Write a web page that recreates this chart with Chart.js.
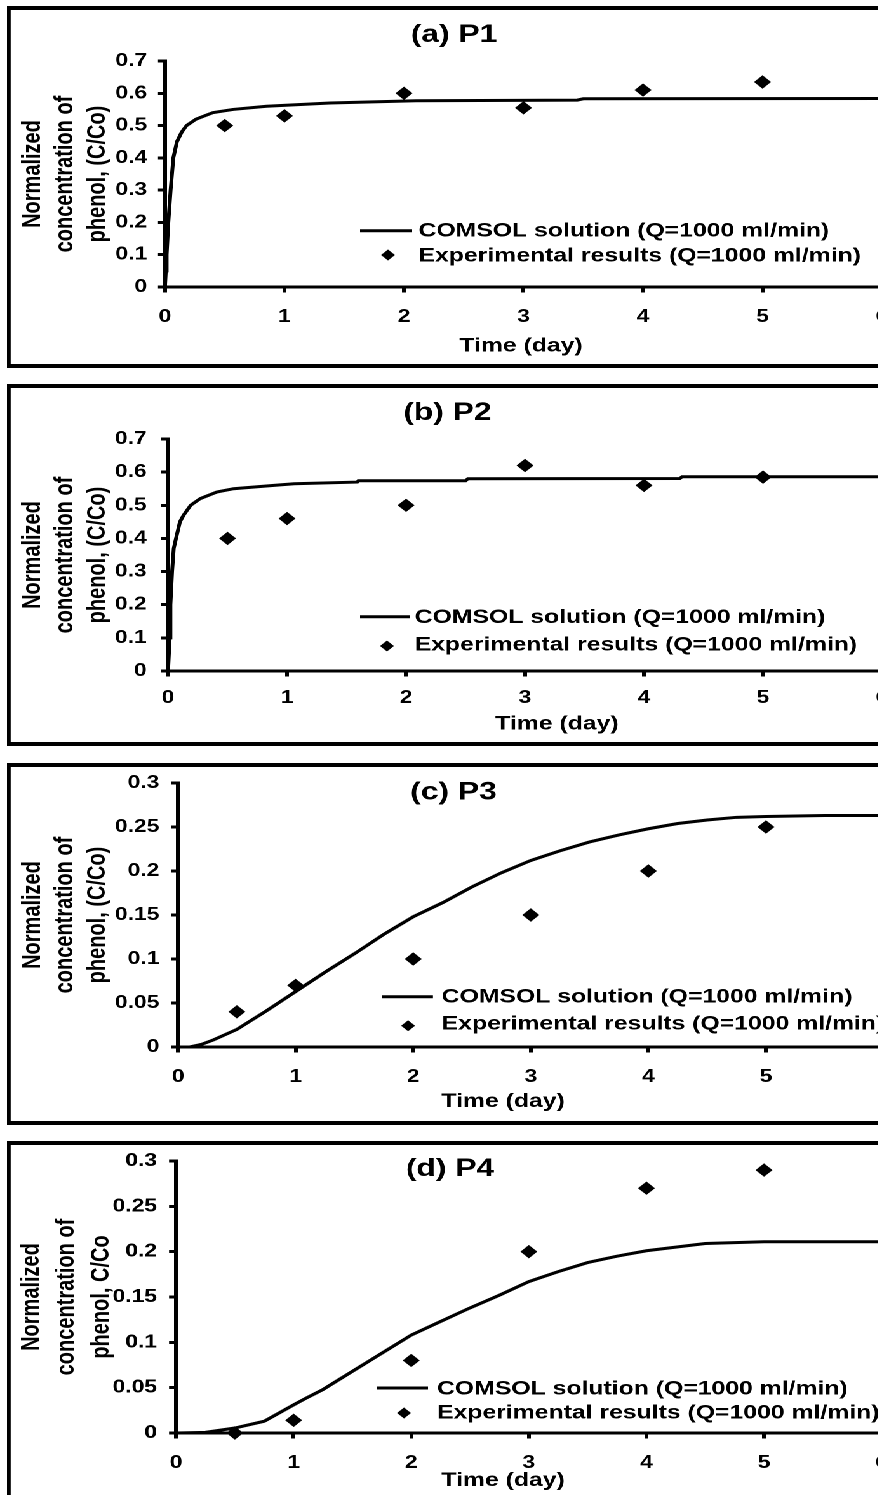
<!DOCTYPE html>
<html>
<head>
<meta charset="utf-8">
<script src="https://cdn.jsdelivr.net/npm/chart.js@4.4.1/dist/chart.umd.min.js"></script>
<style>
html, body { margin: 0; padding: 0; background: #fff; overflow: hidden; width: 878px; height: 1495px; }
.panel { position: absolute; left: 7px; width: 706px; height: 362px; box-sizing: border-box;
  border-style: solid; border-color: #000; border-width: 4px 3px; background: #fff;
  transform: scaleX(1.27); transform-origin: 0 0; }
.panel canvas { display: block; }
</style>
</head>
<body>
<div class="panel" style="top:6px"><canvas id="cA" width="700" height="354"></canvas></div>
<div class="panel" style="top:384px"><canvas id="cB" width="700" height="354"></canvas></div>
<div class="panel" style="top:763px"><canvas id="cC" width="700" height="354"></canvas></div>
<div class="panel" style="top:1141px"><canvas id="cD" width="700" height="354"></canvas></div>
<script>
// ---------------- data ----------------
const panelTitles = ['(a) P1', '(b) P2', '(c) P3', '(d) P4'];
const xAxisTitle = 'Time (day)';
const yAxisTitleABC = ['Normalized', 'concentration of', 'phenol, (C/Co)'];
const yAxisTitleD = ['Normalized', 'concentration of', 'phenol, C/Co'];
const legendLabels = ['COMSOL solution (Q=1000 ml/min)', 'Experimental results (Q=1000 ml/min)'];

const xTickLabels = ['0', '1', '2', '3', '4', '5', '6'];
const yTickLabelsAB = ['0', '0.1', '0.2', '0.3', '0.4', '0.5', '0.6', '0.7'];
const yTickLabelsCD = ['0', '0.05', '0.1', '0.15', '0.2', '0.25', '0.3'];

const expDays = [0.5, 1, 2, 3, 4, 5];
const expP1 = [0.5, 0.53, 0.6, 0.555, 0.61, 0.635];
const expP2 = [0.4, 0.46, 0.5, 0.62, 0.56, 0.585];
const expP3 = [0.04, 0.07, 0.1, 0.15, 0.2, 0.25];
const expP4 = [0, 0.014, 0.08, 0.2, 0.27, 0.29];

const comsolP1Days = [0, 0.007, 0.014, 0.028, 0.047, 0.07, 0.1, 0.14, 0.18, 0.26, 0.4, 0.57, 0.85, 1.38, 2.1, 3.45, 3.5, 6];
const comsolP1 = [0, 0.05, 0.1, 0.2, 0.3, 0.4, 0.45, 0.48, 0.5, 0.52, 0.54, 0.55, 0.56, 0.57, 0.577, 0.579, 0.583, 0.584];

const comsolP2Days = [0, 0.007, 0.014, 0.02, 0.034, 0.048, 0.067, 0.1, 0.13, 0.19, 0.27, 0.41, 0.55, 0.89, 1.06, 1.59, 1.6, 2.5, 2.52, 4.3, 4.32, 6];
const comsolP2 = [0, 0.05, 0.1, 0.2, 0.3, 0.37, 0.4, 0.45, 0.47, 0.5, 0.52, 0.54, 0.55, 0.56, 0.565, 0.57, 0.574, 0.574, 0.58, 0.581, 0.586, 0.586];

const comsolP3Days = [0, 0.1, 0.2, 0.3, 0.5, 0.75, 1, 1.25, 1.5, 1.75, 2, 2.25, 2.5, 2.75, 3, 3.25, 3.5, 3.75, 4, 4.25, 4.5, 4.75, 5, 5.5, 6];
const comsolP3 = [0, 0, 0.003, 0.008, 0.02, 0.041, 0.063, 0.085, 0.106, 0.128, 0.148, 0.164, 0.182, 0.198, 0.212, 0.223, 0.233, 0.241, 0.248, 0.254, 0.258, 0.261, 0.262, 0.263, 0.263];

const comsolP4Days = [0, 0.25, 0.5, 0.75, 1, 1.1, 1.25, 1.5, 1.75, 2, 2.25, 2.5, 2.75, 3, 3.25, 3.5, 3.75, 4, 4.5, 5, 5.5, 6];
const comsolP4 = [0, 0.0007, 0.0055, 0.013, 0.031, 0.038, 0.048, 0.068, 0.088, 0.108, 0.123, 0.138, 0.152, 0.167, 0.178, 0.188, 0.195, 0.201, 0.209, 0.211, 0.211, 0.211];

// ---------------- styling / layout ----------------
const FONT = '"Liberation Sans", Arial, Helvetica, sans-serif';
const TICK_MARK = 4;
const AXIS_W = 3;

const panelDecor = {
  id: 'panelDecor',
  afterDraw(chart, args, o) {
    const ctx = chart.ctx;
    const ds = chart.data.datasets;
    ctx.save();
    ctx.fillStyle = '#000';
    ctx.strokeStyle = '#000';
    ctx.textBaseline = 'middle';
    ctx.textAlign = 'center';
    ctx.font = 'bold ' + o.titleSize + 'px ' + FONT;
    ctx.fillText(o.title, o.titleX, o.titleY);
    ctx.font = 'bold ' + o.xTitleSize + 'px ' + FONT;
    ctx.fillText(o.xTitle, o.xTitleX, o.xTitleY);
    // legend
    const L = o.legend;
    ctx.textAlign = 'left';
    ctx.font = 'bold ' + o.legendSize + 'px ' + FONT;
    ctx.lineWidth = 3;
    ctx.beginPath();
    ctx.moveTo(L.lineX1, L.lineY);
    ctx.lineTo(L.lineX2, L.lineY);
    ctx.stroke();
    ctx.fillText(ds[0].label, L.textX, L.row1Y);
    const r = L.r;
    ctx.beginPath();
    ctx.moveTo(L.dX, L.dY - r);
    ctx.lineTo(L.dX + r, L.dY);
    ctx.lineTo(L.dX, L.dY + r);
    ctx.lineTo(L.dX - r, L.dY);
    ctx.closePath();
    ctx.fill();
    ctx.fillText(ds[1].label, L.textX, L.row2Y);
    ctx.restore();
  }
};

function pts(xs, ys) { return xs.map((x, i) => ({ x: x, y: ys[i] })); }

function makeChart(p) {
  const CW = 700, CH = 354;
  const yVals = p.yLabels.map(Number);
  const xVals = xTickLabels.map(Number);
  // The label gap comes from a longer tick length; only a short dash next to the axis is visible.
  // x ticks are stroked from the axis outward, y ticks from the outer end toward the axis.
  const gridX = { display: true, drawOnChartArea: false, drawTicks: true, tickLength: TICK_MARK + p.xPad,
    tickBorderDash: [TICK_MARK, 300], tickBorderDashOffset: 0, lineWidth: 3, color: '#000' };
  const gridY = { display: true, drawOnChartArea: false, drawTicks: true, tickLength: TICK_MARK + p.yPad,
    tickBorderDash: [TICK_MARK, 300], tickBorderDashOffset: -(p.yPad - AXIS_W / 2), lineWidth: 3, color: '#000' };
  const opts = {
    responsive: false,
    maintainAspectRatio: false,
    animation: false,
    devicePixelRatio: 2,
    layout: { padding: { left: 0, top: p.chartTop, right: CW - p.chartRight, bottom: 0 } },
    plugins: {
      legend: { display: false },
      tooltip: { enabled: false },
      title: { display: false },
      panelDecor: {
        title: p.title, titleX: p.titleX, titleY: p.titleY, titleSize: 25,
        xTitle: xAxisTitle, xTitleX: p.xTitleX, xTitleY: p.xTitleY, xTitleSize: 19.5,
        legendSize: 19.5, legend: p.legend
      }
    },
    scales: {
      x: {
        type: 'linear', min: 0, max: 6,
        afterBuildTicks: s => { s.ticks = xVals.map(v => ({ value: v })); },
        afterFit: s => { s.height = CH - p.chartBottom; },
        ticks: {
          color: '#000', padding: 0, maxRotation: 0, autoSkip: false,
          font: { family: FONT, size: 18, weight: 'bold' },
          callback: (v, i) => xTickLabels[i]
        },
        grid: gridX,
        border: { display: true, color: '#000', width: AXIS_W },
        title: { display: false }
      },
      y: {
        type: 'linear', min: yVals[0], max: yVals[yVals.length - 1],
        afterBuildTicks: s => { s.ticks = yVals.map(v => ({ value: v })); },
        afterFit: s => { s.width = p.yW; },
        ticks: {
          color: '#000', padding: 0, autoSkip: false,
          font: { family: FONT, size: 18, weight: 'bold' },
          callback: (v, i) => p.yLabels[i]
        },
        grid: gridY,
        border: { display: true, color: '#000', width: AXIS_W },
        title: {
          display: true, text: p.yTitle, color: '#000',
          font: { family: FONT, size: 20, weight: 'bold', lineHeight: p.yTitleLH },
          padding: { top: p.yTitlePad, bottom: 0 }
        }
      }
    }
  };
  const chart = new Chart(document.getElementById(p.id), {
    type: 'scatter',
    data: {
      datasets: [
        {
          label: legendLabels[0],
          data: pts(p.lineX, p.lineY),
          showLine: true,
          borderColor: '#000',
          borderWidth: 3,
          pointRadius: 0,
          pointHoverRadius: 0,
          tension: 0,
          fill: false,
          clip: false,
          order: 2
        },
        {
          label: legendLabels[1],
          data: pts(expDays, p.exp),
          showLine: false,
          pointStyle: 'rectRot',
          pointRadius: 6,
          pointHoverRadius: 6,
          backgroundColor: '#000',
          borderColor: '#000',
          borderWidth: 1,
          clip: false,
          order: 1
        }
      ]
    },
    options: opts,
    plugins: [panelDecor]
  });
  // nudge the plot area onto the reference position if the layout moved it
  for (let k = 0; k < 2; k++) {
    const a = chart.chartArea;
    const dr = a.right - p.chartRight;
    const dt = p.chartTop - a.top;
    if (Math.abs(dr) < 0.2 && Math.abs(dt) < 0.2) break;
    opts.layout.padding.right = Math.max(0, opts.layout.padding.right + dr);
    opts.layout.padding.top = Math.max(0, opts.layout.padding.top + dt);
    chart.update();
  }
  return chart;
}

const panels = [
  { id: 'cA', title: panelTitles[0], yTitle: yAxisTitleABC, yLabels: yTickLabelsAB,
    lineX: comsolP1Days, lineY: comsolP1, exp: expP1,
    yW: 121.4, chartTop: 51, chartRight: 686, chartBottom: 277, yPad: 10, xPad: 15,
    yTitlePad: 4.7, yTitleLH: 1.28,
    titleX: 349, titleY: 25, xTitleX: 401.7, xTitleY: 336,
    legend: { lineX1: 275, lineX2: 316, lineY: 220.7, textX: 321, row1Y: 221, dX: 297, dY: 245, row2Y: 246, r: 5.5 } },
  { id: 'cB', title: panelTitles[1], yTitle: yAxisTitleABC, yLabels: yTickLabelsAB,
    lineX: comsolP2Days, lineY: comsolP2, exp: expP2,
    yW: 123.8, chartTop: 51, chartRight: 686, chartBottom: 283, yPad: 12.8, xPad: 12,
    yTitlePad: 4.7, yTitleLH: 1.28,
    titleX: 343.8, titleY: 25, xTitleX: 430, xTitleY: 336,
    legend: { lineX1: 275, lineX2: 314.3, lineY: 228.7, textX: 318, row1Y: 229.5, dX: 296.2, dY: 258, row2Y: 257, r: 5.5 } },
  { id: 'cC', title: panelTitles[2], yTitle: yAxisTitleABC, yLabels: yTickLabelsCD,
    lineX: comsolP3Days, lineY: comsolP3, exp: expP3,
    yW: 131.7, chartTop: 16, chartRight: 687.2, chartBottom: 280, yPad: 10.7, xPad: 15,
    yTitlePad: 4.7, yTitleLH: 1.28,
    titleX: 348.6, titleY: 25.5, xTitleX: 387.6, xTitleY: 334.7,
    legend: { lineX1: 292.3, lineX2: 332.4, lineY: 229.7, textX: 339.3, row1Y: 230, dX: 312.8, dY: 258.7, row2Y: 257, r: 5.5 } },
  { id: 'cD', title: panelTitles[3], yTitle: yAxisTitleD, yLabels: yTickLabelsCD,
    lineX: comsolP4Days, lineY: comsolP4, exp: expP4,
    yW: 130.1, chartTop: 16, chartRight: 685.7, chartBottom: 288, yPad: 11, xPad: 15,
    yTitlePad: 3, yTitleLH: 1.37,
    titleX: 345.8, titleY: 24, xTitleX: 387.6, xTitleY: 335.7,
    legend: { lineX1: 288.3, lineX2: 328.5, lineY: 243, textX: 335.6, row1Y: 244, dX: 309.6, dY: 268, row2Y: 268, r: 5.5 } }
];

panels.forEach(makeChart);
</script>
</body>
</html>
